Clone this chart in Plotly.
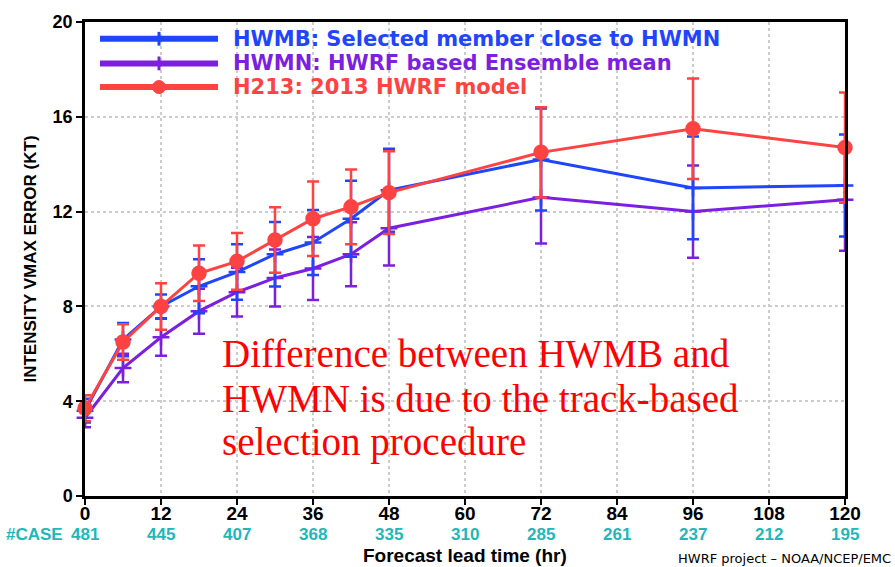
import plotly.graph_objects as go

# ---- data ----
lead = [0, 6, 12, 18, 24, 30, 36, 42, 48, 72, 96, 120]
hwmb = [3.6, 6.6, 8.0, 8.85, 9.45, 10.2, 10.7, 11.7, 12.9, 14.2, 13.0, 13.1]
hwmb_err = [0.5, 0.7, 0.5, 1.14, 1.17, 1.36, 1.37, 1.6, 1.75, 2.15, 2.17, 2.15]
hwmn = [3.3, 5.4, 6.7, 7.8, 8.6, 9.2, 9.6, 10.2, 11.3, 12.6, 12.0, 12.5]
hwmn_err = [0.4, 0.6, 0.78, 0.95, 1.03, 1.2, 1.33, 1.35, 1.57, 1.95, 1.95, 2.15]
h213 = [3.7, 6.5, 8.0, 9.4, 9.9, 10.8, 11.7, 12.2, 12.8, 14.5, 15.5, 14.7]
h213_err = [0.55, 0.75, 0.98, 1.17, 1.2, 1.38, 1.57, 1.58, 1.75, 1.9, 2.12, 2.33]

case_lead = [0, 12, 24, 36, 48, 60, 72, 84, 96, 108, 120]
cases = [481, 445, 407, 368, 335, 310, 285, 261, 237, 212, 195]

names = ["HWMB: Selected member close to HWMN",
         "HWMN: HWRF based Ensemble mean",
         "H213: 2013 HWRF model"]

note_lines = ["Difference between HWMB and",
              "HWMN is due to the track-based",
              "selection procedure"]

BLUE = "#1f45ff"
PURPLE = "#7b1fe0"
RED = "#ff4242"
CYAN = "#1fb8b8"

# plot area in pixels
W, H = 895, 567
L, R, T, B = 85, 50, 15, 71
PW, PH = W - L - R, H - T - B


def px(x):
    return (x - L) / PW


def py(y):
    return (H - B - y) / PH


fig = go.Figure()

series = [
    (hwmn, hwmn_err, PURPLE, "cross-thin", 12, names[1]),
    (hwmb, hwmb_err, BLUE, "cross-thin", 12, names[0]),
    (h213, h213_err, RED, "circle", 13, names[2]),
]
for vals, err, col, sym, size, nm in series:
    fig.add_trace(go.Scatter(
        x=lead, y=vals, mode="lines+markers", name=nm,
        line=dict(color=col, width=3),
        marker=dict(symbol=sym, size=size, color=col,
                    line=dict(color=col, width=2.5)),
        error_y=dict(type="data", array=err, visible=True, color=col,
                     thickness=2.5, width=6),
        cliponaxis=False, showlegend=False,
    ))

FONT_AX = "Liberation Sans, Arial, sans-serif"

fig.update_xaxes(
    range=[0, 120], tickvals=list(range(0, 121, 12)),
    showline=True, linecolor="black", linewidth=2.5, mirror=True,
    ticks="outside", ticklen=6, tickwidth=2, tickcolor="black",
    ticklabelstandoff=-8,
    showgrid=True, gridcolor="#cccccc", griddash="dot", gridwidth=1.5,
    zeroline=False,
    tickfont=dict(family=FONT_AX, size=19, color="black", weight="bold"),
)
fig.update_yaxes(
    range=[0, 20], tickvals=list(range(0, 21, 4)),
    showline=True, linecolor="black", linewidth=2.5, mirror=True,
    ticks="outside", ticklen=6, tickwidth=2, tickcolor="black",
    showgrid=True, gridcolor="#cccccc", griddash="dot", gridwidth=1.5,
    zeroline=False,
    tickfont=dict(family=FONT_AX, size=18, color="black", weight="bold"),
    title=dict(text="INTENSITY VMAX ERROR (KT)", standoff=12,
               font=dict(family=FONT_AX, size=17, color="black", weight="bold")),
)

annotations = []
shapes = []

# legend (drawn manually)
leg_y = [32, 57, 81]
leg_cols = [BLUE, PURPLE, RED]
for i, (yy, col, nm) in enumerate(zip(leg_y, leg_cols, names)):
    shapes.append(dict(type="line", xref="paper", yref="paper",
                       x0=px(100), x1=px(218), y0=py(yy), y1=py(yy),
                       line=dict(color=col, width=6)))
    if i < 2:
        shapes.append(dict(type="line", xref="paper", yref="paper",
                           x0=px(159), x1=px(159), y0=py(yy - 7), y1=py(yy + 7),
                           line=dict(color=col, width=3)))
    else:
        shapes.append(dict(type="circle", xref="paper", yref="paper",
                           xsizemode="pixel", ysizemode="pixel",
                           xanchor=px(159), yanchor=py(yy),
                           x0=-6.5, x1=6.5, y0=-6.5, y1=6.5,
                           fillcolor=col, line=dict(color=col, width=1)))
    annotations.append(dict(text=nm, xref="paper", yref="paper",
                            x=px(231), y=py(yy), xanchor="left", yanchor="middle",
                            showarrow=False,
                            font=dict(family="DejaVu Sans, sans-serif", size=21,
                                      color=col, weight="bold")))

# case counts
for xv, c in zip(case_lead, cases):
    annotations.append(dict(text=str(c), x=xv, xref="x", y=py(535), yref="paper",
                            xanchor="center", yanchor="middle", showarrow=False,
                            font=dict(family=FONT_AX, size=17, color=CYAN,
                                      weight="bold")))
annotations.append(dict(text="#CASE", x=px(65), xref="paper", y=py(535), yref="paper",
                        xanchor="right", yanchor="middle", showarrow=False,
                        font=dict(family=FONT_AX, size=17, color=CYAN, weight="bold")))

annotations.append(dict(text="Forecast lead time (hr)", x=px(465), xref="paper",
                        y=py(556), yref="paper", xanchor="center", yanchor="middle",
                        showarrow=False,
                        font=dict(family=FONT_AX, size=19, color="black",
                                  weight="bold")))
annotations.append(dict(text="HWRF project \u2013 NOAA/NCEP/EMC", x=px(893),
                        xref="paper", y=py(559), yref="paper", xanchor="right",
                        yanchor="middle", showarrow=False,
                        font=dict(family="DejaVu Sans, sans-serif", size=13,
                                  color="black")))

note_tops = [328, 373, 417]
for txt, top in zip(note_lines, note_tops):
    annotations.append(dict(
        text=txt, x=px(220), xref="paper", y=py(top), yref="paper",
        xanchor="left", yanchor="top", align="left", showarrow=False,
        font=dict(family="Liberation Serif, serif", size=39, color="#ff0000")))

fig.update_layout(
    width=W, height=H,
    margin=dict(l=L, r=R, t=T, b=B),
    paper_bgcolor="white", plot_bgcolor="white",
    shapes=shapes, annotations=annotations,
    showlegend=False,
)

fig.write_html("out.html")
